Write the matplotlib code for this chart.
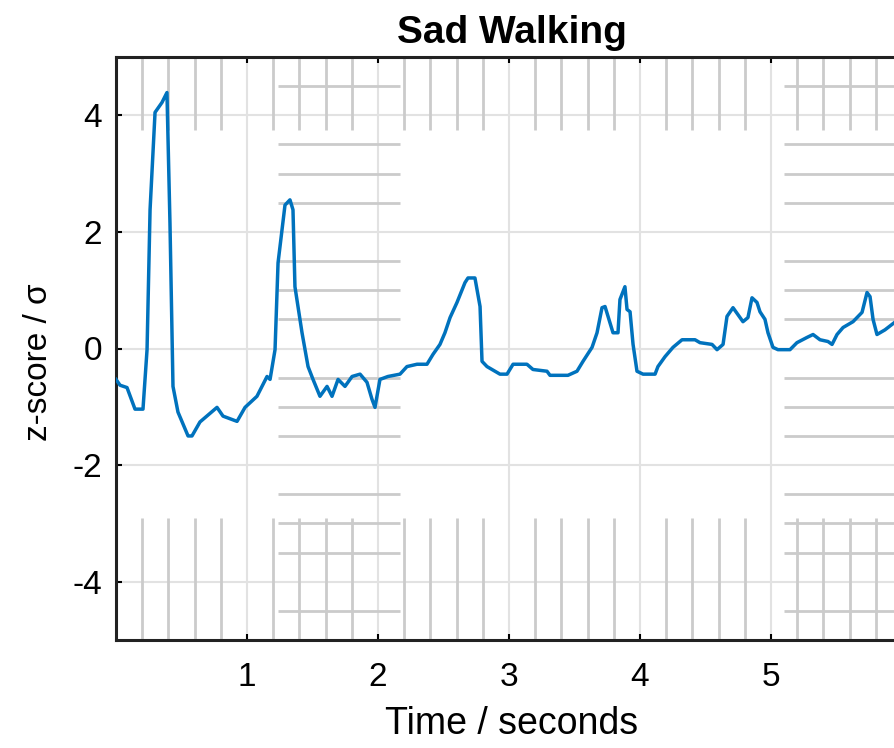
import numpy as np
import matplotlib
matplotlib.use("Agg")
import matplotlib.pyplot as plt

plt.rcParams['font.family'] = ['Liberation Sans', 'DejaVu Sans']

# trace (seconds, z-score)
tiempo = [0.000, 0.031, 0.084, 0.145, 0.206, 0.237, 0.260, 0.298, 0.351, 0.389,
          0.412, 0.435, 0.473, 0.550, 0.580, 0.641, 0.771, 0.817, 0.924, 0.985,
          1.076, 1.153, 1.176, 1.214, 1.237, 1.290, 1.328, 1.351, 1.366, 1.420,
          1.466, 1.504, 1.557, 1.611, 1.649, 1.695, 1.748, 1.802, 1.863, 1.916,
          1.954, 1.977, 2.015, 2.076, 2.168, 2.221, 2.298, 2.374, 2.420, 2.473,
          2.511, 2.550, 2.603, 2.664, 2.687, 2.740, 2.779, 2.794, 2.832, 2.870,
          2.931, 2.985, 3.031, 3.137, 3.183, 3.290, 3.313, 3.450, 3.519, 3.565,
          3.634, 3.672, 3.710, 3.733, 3.794, 3.832, 3.847, 3.885, 3.901, 3.924,
          3.947, 3.977, 4.023, 4.115, 4.137, 4.191, 4.252, 4.321, 4.420, 4.458,
          4.550, 4.588, 4.634, 4.664, 4.710, 4.748, 4.786, 4.824, 4.855, 4.893,
          4.916, 4.954, 4.977, 5.015, 5.053, 5.145, 5.198, 5.275, 5.321, 5.374,
          5.435, 5.466, 5.504, 5.550, 5.626, 5.695, 5.733, 5.756, 5.779, 5.809,
          5.870, 5.939]
sinal = [-0.53, -0.63, -0.67, -1.04, -1.04, -0.02, 2.38, 4.05, 4.22, 4.39,
         2.15, -0.65, -1.09, -1.50, -1.50, -1.26, -1.01, -1.16, -1.25, -1.01,
         -0.82, -0.48, -0.53, -0.02, 1.47, 2.46, 2.55, 2.38, 1.06, 0.27,
         -0.31, -0.53, -0.82, -0.65, -0.82, -0.53, -0.65, -0.48, -0.44, -0.58,
         -0.87, -1.01, -0.53, -0.48, -0.44, -0.31, -0.27, -0.27, -0.10, 0.07,
         0.27, 0.53, 0.79, 1.13, 1.21, 1.21, 0.72, -0.22, -0.31, -0.36,
         -0.44, -0.44, -0.27, -0.27, -0.36, -0.39, -0.46, -0.46, -0.39, -0.22,
         0.02, 0.27, 0.70, 0.72, 0.27, 0.27, 0.84, 1.06, 0.67, 0.63,
         0.07, -0.39, -0.44, -0.44, -0.31, -0.14, 0.02, 0.15, 0.15, 0.10,
         0.07, -0.02, 0.07, 0.55, 0.70, 0.58, 0.46, 0.53, 0.87, 0.79,
         0.63, 0.50, 0.27, 0.02, -0.02, -0.02, 0.10, 0.19, 0.24, 0.15,
         0.12, 0.07, 0.24, 0.36, 0.46, 0.62, 0.96, 0.89, 0.50, 0.24,
         0.32, 0.44]

xticks = [1, 2, 3, 4, 5]
yticks = [-4, -2, 0, 2, 4]
ytick_labels = ["-4", "-2", "0", "2", "4"]

fig = plt.figure(figsize=(8.94, 7.48), dpi=100)
# axes runs past the right edge of the picture, like the reference crop
ax = fig.add_axes([116 / 894, 108 / 748, 7 * 131 / 894, 583 / 748])
ax.set_xlim(0, 7)
ax.set_ylim(-5, 5)

# major grid
for xv in xticks + [6]:
    ax.axvline(xv, color='#e2e2e2', lw=1.5, zorder=0)
for yv in yticks:
    ax.axhline(yv, color='#e2e2e2', lw=1.5, zorder=0)

# minor grid, only showing in patches (as it comes out in the reference)
minor_x = [v for v in np.arange(0.2, 7, 0.2) if abs(v - round(v)) > 0.05]
minor_y = [v for v in np.arange(-4.5, 5, 0.5) if abs(v / 2 - round(v / 2)) > 0.05]
for y0, y1 in [(3.75, 5), (-5, -2.9)]:
    ax.vlines(minor_x, y0, y1, color='#cbcbcb', lw=2, zorder=0.5)
for x0, x1 in [(1.24, 2.17), (5.1, 7)]:
    ax.hlines(minor_y, x0, x1, color='#cbcbcb', lw=2, zorder=0.5)

ax.plot(tiempo, sinal, color='#0072BD', lw=2.5, zorder=3)

ax.set_xticks(xticks)
ax.set_yticks(yticks)
ax.set_yticklabels(ytick_labels)
ax.tick_params(direction='in', length=4, width=1.5, labelsize=24, top=True,
               color='black', pad=10)
ax.tick_params(axis='x', pad=16)
for sp in ax.spines.values():
    sp.set_linewidth(2.2)
    sp.set_color('#222222')

# centre texts on the visible part of the axes
mitad = (512 - 116) / 917
ax.set_title("Sad Walking", fontsize=28, fontweight='bold', pad=10, x=mitad)
ax.set_xlabel("Time / seconds", fontsize=27)
ax.xaxis.set_label_coords(mitad, -0.113)
ax.set_ylabel("z-score / σ", fontsize=24)
ax.yaxis.set_label_coords(-0.068, 0.477)

fig.savefig("out.png", dpi=100)
